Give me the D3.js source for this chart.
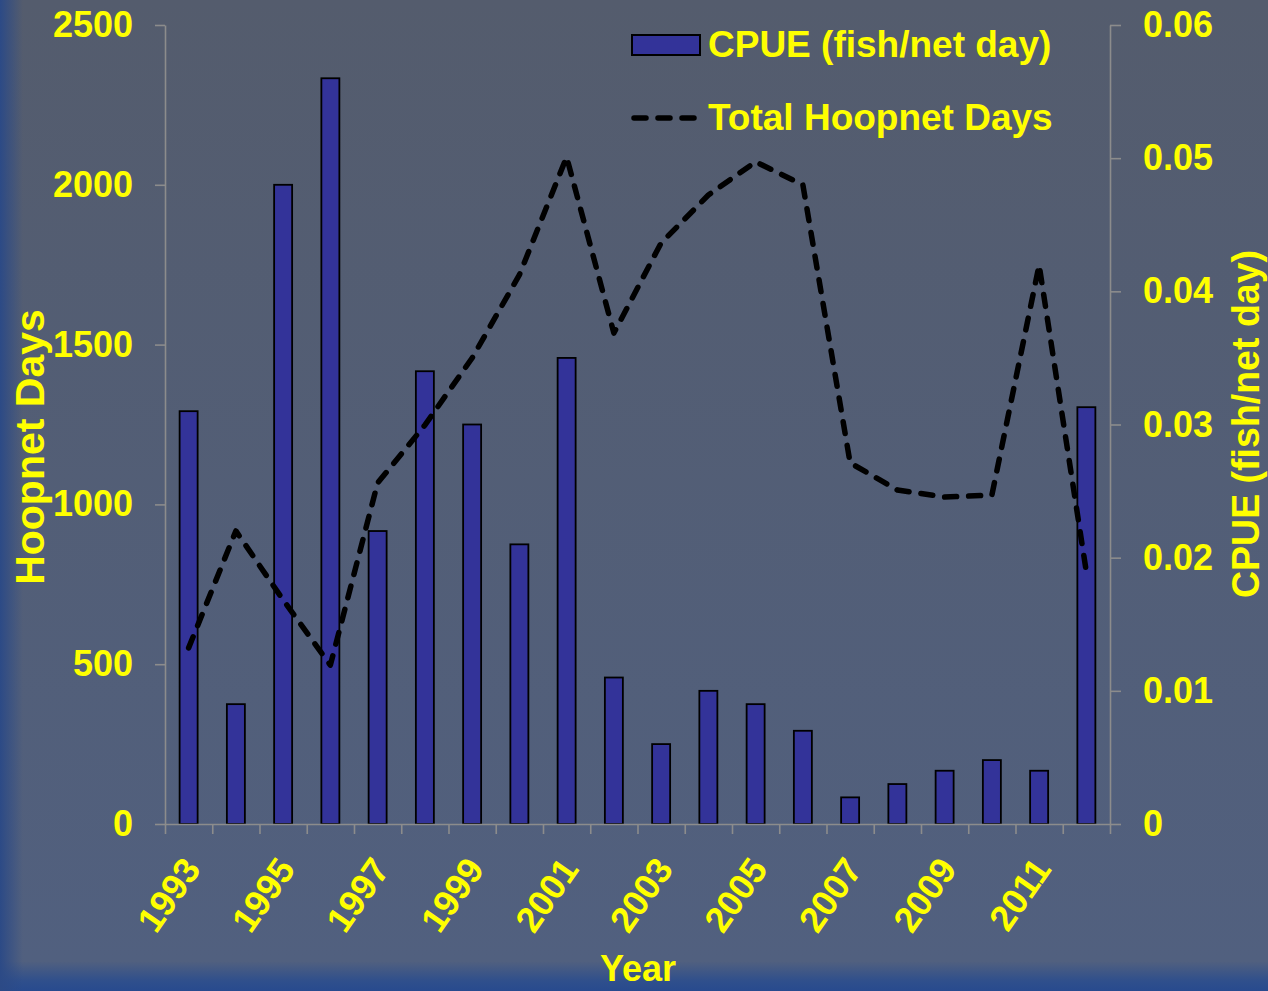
<!DOCTYPE html>
<html lang="en">

<head>
  <meta charset="UTF-8">
  <title>Hoopnet Days and CPUE</title>
  <script src="https://d3js.org/d3.v7.min.js"></script>
  <style>
    body {
      margin: 0;
      background: #525d72;
    }

    text {
      font-family: "Liberation Sans", Arial, sans-serif;
      font-weight: bold;
      fill: #ffff00;
    }
  </style>
</head>

<body>
  <div id="chart"></div>

  <script>
    // data
    const years = ["1993", "1994", "1995", "1996", "1997", "1998", "1999", "2000", "2001", "2002",
      "2003", "2004", "2005", "2006", "2007", "2008", "2009", "2010", "2011", "2012"];
    const cpue = [0.031, 0.009, 0.048, 0.056, 0.022, 0.034, 0.030, 0.021, 0.035, 0.011,
      0.006, 0.010, 0.009, 0.007, 0.002, 0.003, 0.004, 0.0048, 0.004, 0.0313];
    const hoopnetDays = [551, 917, 701, 497, 1067, 1248, 1458, 1718, 2087, 1536,
      1818, 1968, 2072, 2000, 1130, 1045, 1023, 1029, 1749, 788];
    const leftTicks = [0, 500, 1000, 1500, 2000, 2500];
    const rightTicks = [0, 0.01, 0.02, 0.03, 0.04, 0.05, 0.06];

    const W = 1268, H = 991;
    const margin = { top: 25, right: 158, bottom: 167, left: 165 };
    const width = W - margin.left - margin.right;
    const height = H - margin.top - margin.bottom;
    const axisColor = "#8c8c8c";

    const root = d3.select("#chart")
      .append("svg")
      .attr("width", W)
      .attr("height", H);

    // background
    const defs = root.append("defs");
    const bgV = defs.append("linearGradient").attr("id", "bgV")
      .attr("x1", 0).attr("y1", 0).attr("x2", 0).attr("y2", 1);
    bgV.append("stop").attr("offset", "0%").attr("stop-color", "#545c6d");
    bgV.append("stop").attr("offset", "97%").attr("stop-color", "#51607f");
    bgV.append("stop").attr("offset", "99%").attr("stop-color", "#2f4f8c");
    bgV.append("stop").attr("offset", "100%").attr("stop-color", "#284a8e");
    const bgH = defs.append("linearGradient").attr("id", "bgH")
      .attr("x1", 0).attr("y1", 0).attr("x2", 1).attr("y2", 0);
    bgH.append("stop").attr("offset", "0%").attr("stop-color", "#2c4a86").attr("stop-opacity", 1);
    bgH.append("stop").attr("offset", "1.8%").attr("stop-color", "#2c4a86").attr("stop-opacity", 0);
    bgH.append("stop").attr("offset", "100%").attr("stop-color", "#2c4a86").attr("stop-opacity", 0);

    root.append("rect").attr("width", W).attr("height", H).attr("fill", "url(#bgV)");
    root.append("rect").attr("width", W).attr("height", H).attr("fill", "url(#bgH)");

    const svg = root.append("g")
      .attr("transform", `translate(${margin.left},${margin.top})`);

    const x = d3.scaleBand()
      .domain(years)
      .range([0, width])
      .padding(0);

    const xEdges = d3.scaleLinear()
      .domain([0, years.length])
      .range([0, width]);

    const yLeft = d3.scaleLinear()
      .domain([0, 2500])
      .range([height, 0]);

    const yRight = d3.scaleLinear()
      .domain([0, 0.06])
      .range([height, 0]);

    // bars (CPUE, right axis)
    const barW = 18;
    svg.selectAll(".bar")
      .data(cpue)
      .enter().append("rect")
      .attr("class", "bar")
      .attr("x", (d, i) => x(years[i]) + (x.bandwidth() - barW) / 2)
      .attr("y", d => yRight(d))
      .attr("width", barW)
      .attr("height", d => height - yRight(d))
      .attr("fill", "#333399")
      .attr("stroke", "#000")
      .attr("stroke-width", 1.8);

    // axes
    const leftAxis = svg.append("g")
      .call(d3.axisLeft(yLeft).tickValues(leftTicks).tickSize(10).tickSizeOuter(0).tickPadding(22)
        .tickFormat(d3.format("d")));

    const rightAxis = svg.append("g")
      .attr("transform", `translate(${width},0)`)
      .call(d3.axisRight(yRight).tickValues(rightTicks).tickSize(11).tickSizeOuter(0).tickPadding(22)
        .tickFormat(d => d === 0 ? "0" : d3.format(".2f")(d)));

    const edgeAxis = svg.append("g")
      .attr("transform", `translate(0,${height})`)
      .call(d3.axisBottom(xEdges).tickValues(d3.range(0, years.length + 1)).tickSize(10).tickSizeOuter(0).tickFormat(""));

    const yearAxis = svg.append("g")
      .attr("transform", `translate(0,${height})`)
      .call(d3.axisBottom(x).tickSize(0).tickFormat((d, i) => i % 2 === 0 ? d : ""));
    yearAxis.select(".domain").remove();
    yearAxis.selectAll("text")
      .attr("x", 0)
      .attr("y", 0)
      .attr("dy", "0.35em")
      .attr("transform", "translate(3,38) rotate(-55)")
      .style("text-anchor", "end");

    [leftAxis, rightAxis, edgeAxis, yearAxis].forEach(g => {
      g.attr("font-size", null).attr("font-family", null);
      g.selectAll("path, line").attr("stroke", axisColor).attr("stroke-width", 1.6);
      g.selectAll("text").attr("fill", "#ffff00").style("font-size", "36px");
    });

    // hoopnet days line (left axis)
    const line = d3.line()
      .x((d, i) => x(years[i]) + x.bandwidth() / 2)
      .y(d => yLeft(d));

    svg.append("path")
      .datum(hoopnetDays)
      .attr("d", line)
      .attr("fill", "none")
      .attr("stroke", "#000")
      .attr("stroke-width", 5.5)
      .attr("stroke-dasharray", "12,12")
      .attr("stroke-linecap", "round")
      .attr("stroke-linejoin", "round");

    // axis titles
    root.append("text")
      .attr("transform", "translate(44,447) rotate(-90)")
      .style("text-anchor", "middle")
      .style("font-size", "41px")
      .text("Hoopnet Days");

    root.append("text")
      .attr("transform", "translate(1259,424) rotate(-90)")
      .style("text-anchor", "middle")
      .style("font-size", "39px")
      .attr("textLength", 348)
      .attr("lengthAdjust", "spacingAndGlyphs")
      .text("CPUE (fish/net day)");

    root.append("text")
      .attr("x", 638)
      .attr("y", 981)
      .style("text-anchor", "middle")
      .style("font-size", "36px")
      .text("Year");

    // legend
    const legend = root.append("g").attr("transform", "translate(632,0)");
    legend.append("rect")
      .attr("x", 0).attr("y", 35)
      .attr("width", 68).attr("height", 20)
      .attr("fill", "#333399")
      .attr("stroke", "#000")
      .attr("stroke-width", 2);
    legend.append("text")
      .attr("x", 76).attr("y", 57)
      .style("font-size", "37px")
      .text("CPUE (fish/net day)");
    legend.append("line")
      .attr("x1", 2).attr("x2", 62)
      .attr("y1", 118).attr("y2", 118)
      .attr("stroke", "#000")
      .attr("stroke-width", 5.5)
      .attr("stroke-dasharray", "12,12")
      .attr("stroke-linecap", "round");
    legend.append("text")
      .attr("x", 76).attr("y", 130)
      .style("font-size", "37px")
      .text("Total Hoopnet Days");
  </script>
</body>

</html>
